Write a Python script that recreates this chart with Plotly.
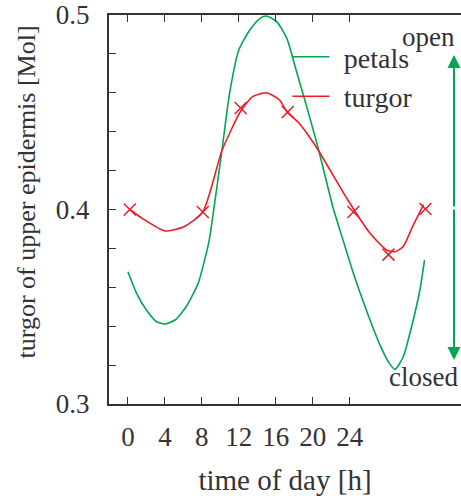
import plotly.graph_objects as go

# turgor measurements (markers)
turgor_t = [0.2, 8.1, 12.2, 17.3, 24.4, 28.2, 32.2]
turgor_y = [0.400, 0.3987, 0.4522, 0.4501, 0.3987, 0.3768, 0.4003]

# turgor fitted curve
turgor_fit_t = [0.2, 1.5, 4, 6, 8.1, 10.2, 12.2, 13.5, 15, 16.4, 17.2, 18.6, 20.4, 23.8, 26.2, 28.0, 28.9, 29.8, 30.8, 32.0]
turgor_fit_y = [0.400, 0.3956, 0.389, 0.391, 0.3987, 0.4306, 0.4505, 0.458, 0.460, 0.4563, 0.4503, 0.444, 0.432, 0.4049, 0.3878, 0.3792, 0.3783, 0.381, 0.3911, 0.4025]

# petals opening curve
petals_t = [0.0, 0.94, 2.0, 3.1, 4.0, 5.1, 6.3, 7.6, 8.3, 8.8, 10.2, 11.0, 12.0, 13.2, 14.3, 15.0, 16.1, 17.2, 18.2, 19.3, 20.6, 22.2, 23.3, 24.4, 25.8, 27.2, 28.3, 28.9, 29.8, 30.7, 31.6, 32.1]
petals_y = [0.368, 0.3569, 0.3483, 0.3423, 0.3411, 0.3432, 0.350, 0.362, 0.374, 0.3843, 0.4314, 0.4597, 0.482, 0.4923, 0.4983, 0.4995, 0.4966, 0.488, 0.4717, 0.4537, 0.4314, 0.401, 0.384, 0.3672, 0.3483, 0.3312, 0.3209, 0.3178, 0.3243, 0.3397, 0.3586, 0.374]

x_ticks = [0, 4, 8, 12, 16, 20, 24]
y_ticks = [0.30, 0.32, 0.34, 0.36, 0.38, 0.40, 0.42, 0.44, 0.46, 0.48, 0.50]
y_ticktext = ["0.3", "", "", "", "", "0.4", "", "", "", "", "0.5"]

GREEN = "#00a651"
RED = "#ee1c25"
TXT = "#333333"
FONT = "Liberation Serif"

fig = go.Figure()
fig.add_trace(go.Scatter(x=petals_t, y=petals_y, mode="lines", name="\u2004petals",
                         line=dict(color=GREEN, width=1.6, shape="spline", smoothing=0.6)))
fig.add_trace(go.Scatter(x=turgor_fit_t, y=turgor_fit_y, mode="lines", name="\u2004turgor",
                         line=dict(color=RED, width=1.6, shape="spline", smoothing=0.6)))
fig.add_trace(go.Scatter(x=turgor_t, y=turgor_y, mode="markers", showlegend=False,
                         marker=dict(symbol="x-thin-open", size=12, color=RED,
                                     line=dict(color=RED, width=1.5))))

fig.update_layout(
    width=461, height=496,
    margin=dict(l=109, r=0, t=15, b=92),
    plot_bgcolor="white", paper_bgcolor="white",
    font=dict(family=FONT, size=27, color=TXT),
    legend=dict(x=0.507, y=0.956, xanchor="left", yanchor="top",
                bgcolor="rgba(0,0,0,0)", font=dict(size=28), itemwidth=37),
    xaxis=dict(range=[-2.05, 36.05], tickvals=x_ticks, ticks="inside", ticklen=7,
               tickwidth=1.3, tickcolor=TXT, showline=True, linecolor=TXT, linewidth=2,
               mirror="ticks", showgrid=False, zeroline=False, ticklabelstandoff=8,
               title=dict(text="time of day [h]", standoff=18, font=dict(size=29))),
    yaxis=dict(range=[0.3, 0.5], tickvals=y_ticks, ticktext=y_ticktext, ticks="inside",
               ticklen=7, tickwidth=1.3, tickcolor=TXT, showline=True, linecolor=TXT,
               linewidth=2, showgrid=False, zeroline=False, ticklabelstandoff=12),
)

# y-axis title (placed slightly above centre, as in the reference)
fig.add_annotation(x=(26 - 109) / 352, y=(404 - 192.5) / 389, xref="paper", yref="paper",
                   xanchor="center", yanchor="middle", textangle=-90, showarrow=False,
                   text="turgor of upper epidermis [Mol]", font=dict(size=26))

# open / closed arrow
xa = (454 - 109) / 352
for yh, off in [((404 - 55) / 389, 153), ((404 - 360) / 389, -152)]:
    fig.add_annotation(x=xa, y=yh, xref="x domain", yref="y domain", ax=0, ay=off,
                       showarrow=True, arrowhead=2, arrowsize=1.3, arrowwidth=2,
                       arrowcolor=GREEN, text="")
fig.add_annotation(x=1.0, y=(404 - 37) / 389, xref="x domain", yref="y domain", xanchor="right",
                   yanchor="middle", text="open", showarrow=False, xshift=-4)
fig.add_annotation(x=1.0, y=(404 - 377) / 389, xref="x domain", yref="y domain", xanchor="right",
                   yanchor="middle", text="closed", showarrow=False, xshift=-1)

fig.write_html("out.html", config={"displayModeBar": False},
               post_script="document.body.style.margin='0';")
